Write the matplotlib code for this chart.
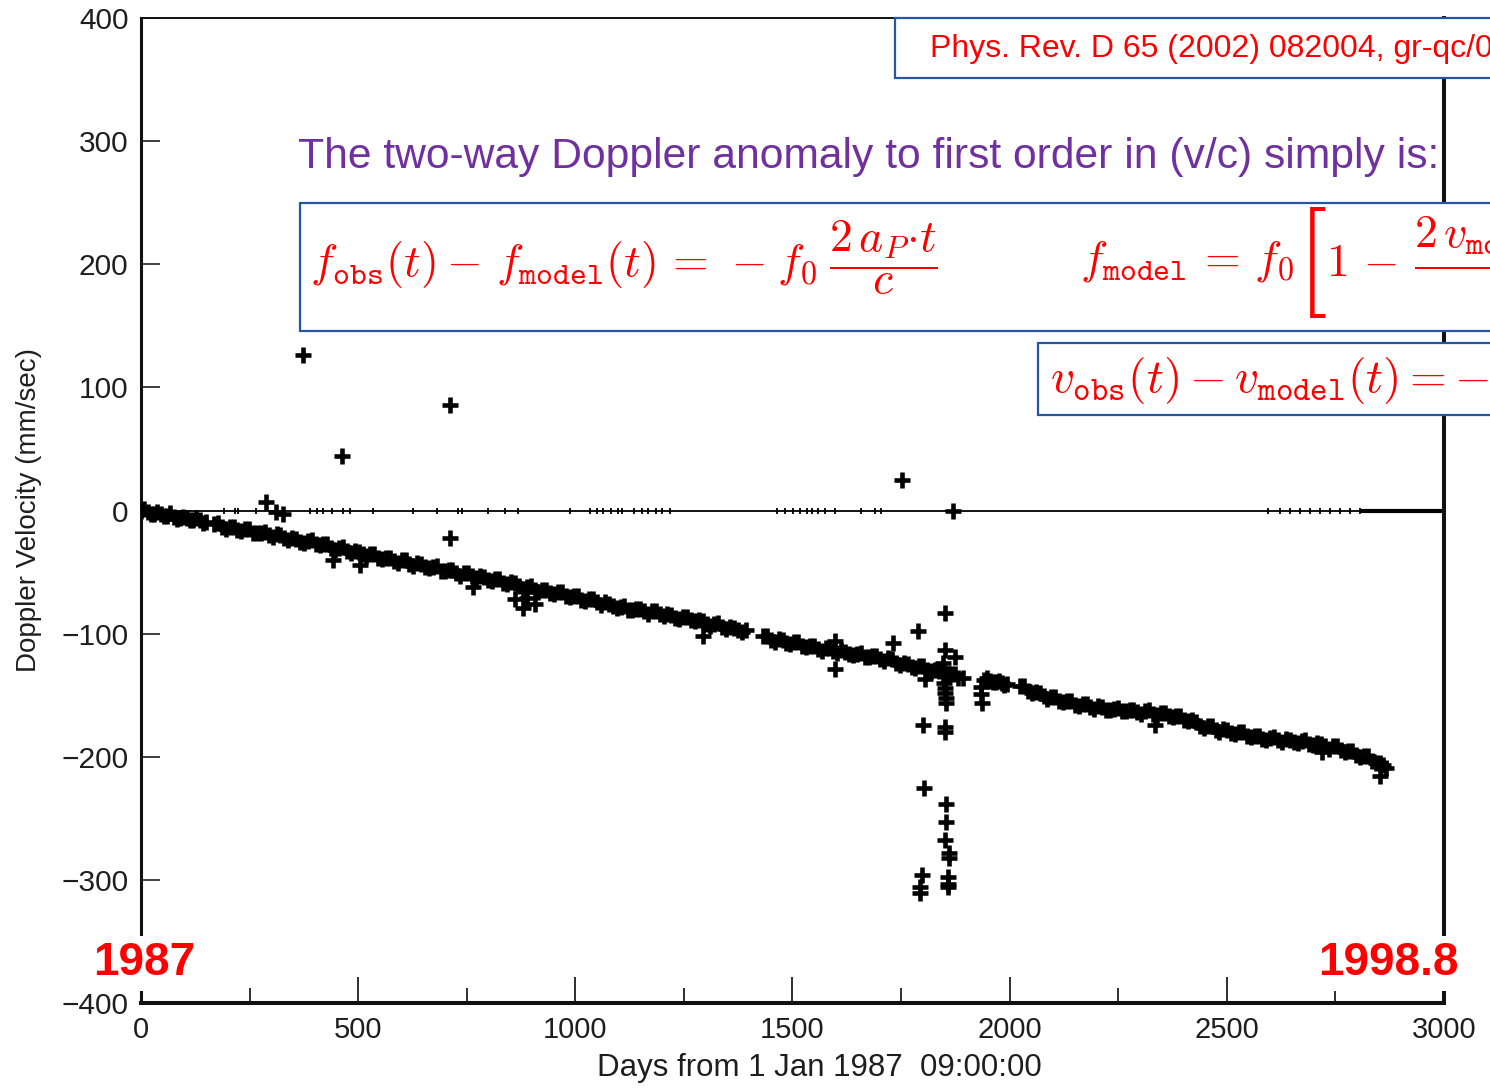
import matplotlib
matplotlib.use("Agg")
import matplotlib.pyplot as plt
from matplotlib.patches import Rectangle
from matplotlib.ticker import MultipleLocator

plt.rcParams['font.family'] = ['Liberation Sans', 'DejaVu Sans']
plt.rcParams['mathtext.fontset'] = 'cm'

# ---------------- data ----------------
# main tracking band, first set of passes
band_days_1 = [0, 15, 30, 45, 60, 75, 90, 105, 120, 135, 150]
band_vals_1 = [-0.8, -1.4, -2.6, -3.2, -4.3, -4.9, -6.0, -6.4, -7.5, -8.1, -9.2]

band_days_2 = [168, 186, 204, 222, 240, 258, 276, 294, 312, 330, 348, 366, 384, 402, 420,
               438, 456, 474, 492, 510, 528, 546, 564, 582, 600, 618, 636, 654, 672, 690,
               708, 726, 744, 762, 780, 798, 816, 834, 852, 870, 888, 906, 924, 942, 960,
               978, 996, 1014, 1032, 1050, 1068, 1086, 1104, 1122, 1140, 1158, 1176, 1194,
               1212, 1230, 1248, 1266, 1284, 1302, 1320, 1338, 1356, 1374, 1392]
band_vals_2 = [-10.7, -13.4, -13.4, -15.5, -15.2, -18.2, -17.9, -20.0, -19.4, -22.4, -22.6,
               -25.3, -24.7, -27.2, -27.0, -30.1, -30.2, -33.2, -32.8, -35.2, -35.1, -38.5,
               -38.5, -41.2, -40.6, -43.1, -42.9, -46.1, -46.2, -48.8, -48.2, -50.8, -50.5,
               -53.5, -53.6, -56.5, -55.9, -58.7, -58.4, -61.7, -62.1, -64.7, -64.2, -66.6,
               -66.4, -69.6, -69.5, -72.3, -72.0, -74.5, -74.4, -77.9, -78.1, -80.6, -79.6,
               -81.9, -81.3, -84.4, -84.3, -87.2, -86.6, -88.9, -88.7, -91.9, -92.2, -94.9,
               -94.4, -97.2, -97.3]

band_days_3 = [1432, 1450, 1468, 1486, 1504, 1522, 1540, 1558, 1576, 1594, 1612, 1630, 1648,
               1666, 1684, 1702, 1720, 1738, 1756, 1774, 1792, 1810, 1828, 1846, 1864, 1882]
band_vals_3 = [-102.1, -104.9, -104.5, -107.3, -107.0, -110.1, -110.0, -112.6, -111.7, -114.2,
               -113.7, -116.8, -116.4, -118.8, -117.9, -120.3, -120.0, -123.6, -123.8, -126.9,
               -126.6, -129.7, -129.6, -133.2, -133.0, -135.9]

band_days_4 = [1940, 1954, 1968, 1982, 1994]
band_vals_4 = [-137.5, -138.2, -139.6, -140.1, -141.3]

band_days_5 = [2024, 2042, 2060, 2078, 2096, 2114, 2132, 2150, 2168, 2186, 2204, 2222, 2240,
               2258, 2276, 2294, 2312, 2330, 2348, 2366, 2384, 2402, 2420, 2438, 2456, 2474,
               2492, 2510, 2528, 2546, 2564, 2582, 2600, 2618, 2636, 2654, 2672, 2690, 2708,
               2726, 2744, 2762, 2780, 2798, 2816, 2834, 2852, 2866]
band_vals_5 = [-142.4, -146.3, -147.1, -151.0, -151.5, -154.9, -154.9, -157.6, -157.0, -159.6,
               -158.9, -161.7, -161.0, -163.0, -161.7, -163.7, -162.5, -165.1, -164.4, -166.8,
               -166.6, -170.0, -170.5, -174.9, -175.1, -178.1, -177.7, -180.6, -180.2, -183.4,
               -183.0, -185.5, -184.5, -186.7, -185.5, -188.1, -187.4, -189.8, -189.1, -191.5,
               -191.0, -194.4, -195.1, -198.6, -199.2, -203.6, -204.9, -209.5]

# main tracking band, second set of passes (interleaved)
band2_days_1 = [7, 22, 37, 52, 67, 82, 97, 112, 127, 142]
band2_vals_1 = [1.0, -2.9, -1.4, -4.3, -2.2, -6.5, -5.0, -8.0, -6.2, -10.0]

band2_days_2 = [177, 195, 213, 231, 249, 267, 285, 303, 321, 339, 357, 375, 393, 411, 429,
                447, 465, 483, 501, 519, 537, 555, 573, 591, 609, 627, 645, 663, 681, 699,
                717, 735, 753, 771, 789, 807, 825, 843, 861, 879, 897, 915, 933, 951, 969,
                987, 1005, 1023, 1041, 1059, 1077, 1095, 1113, 1131, 1149, 1167, 1185, 1203,
                1221, 1239, 1257, 1275, 1293, 1311, 1329, 1347, 1365, 1383]
band2_vals_2 = [-10.5, -15.0, -13.7, -16.8, -14.9, -18.4, -17.8, -21.9, -19.6, -24.0, -22.8,
                -26.1, -24.3, -28.0, -27.5, -31.8, -29.8, -34.5, -33.4, -36.8, -35.2, -39.0,
                -38.5, -42.8, -40.6, -45.1, -43.8, -47.1, -45.3, -49.0, -48.5, -52.8, -50.6,
                -55.1, -53.9, -57.3, -55.7, -59.5, -59.2, -63.6, -61.6, -66.1, -64.8, -68.1,
                -66.3, -70.0, -69.5, -73.9, -72.0, -76.6, -75.6, -79.0, -77.3, -80.7, -79.8,
                -83.7, -81.4, -85.9, -84.6, -87.9, -86.1, -89.8, -89.4, -93.7, -91.7, -96.3,
                -95.2, -98.6]

band2_days_3 = [1441, 1459, 1477, 1495, 1513, 1531, 1549, 1567, 1585, 1603, 1621, 1639, 1657,
                1675, 1693, 1711, 1729, 1747, 1765, 1783, 1801, 1819, 1837, 1855, 1873]
band2_vals_3 = [-101.8, -106.4, -105.2, -108.6, -106.9, -110.5, -109.9, -114.0, -111.7, -116.0,
                -114.6, -117.6, -115.5, -118.9, -118.1, -122.3, -120.4, -125.2, -124.3, -127.9,
                -126.4, -130.4, -130.3, -134.8, -132.9]

band2_days_4 = [1947, 1961, 1975, 1988]
band2_vals_4 = [-136.4, -139.5, -138.6, -141.9]

band2_days_5 = [2033, 2051, 2069, 2087, 2105, 2123, 2141, 2159, 2177, 2195, 2213, 2231, 2249,
                2267, 2285, 2303, 2321, 2339, 2357, 2375, 2393, 2411, 2429, 2447, 2465, 2483,
                2501, 2519, 2537, 2555, 2573, 2591, 2609, 2627, 2645, 2663, 2681, 2699, 2717,
                2735, 2753, 2771, 2789, 2807, 2825, 2843, 2859]
band2_vals_5 = [-142.8, -148.5, -148.5, -152.7, -151.5, -155.3, -154.8, -159.1, -156.9, -161.2,
                -159.6, -162.4, -160.0, -162.9, -161.7, -165.2, -162.3, -166.2, -164.7, -168.0,
                -166.7, -171.1, -171.7, -176.7, -174.8, -179.5, -178.5, -181.9, -180.1, -183.6,
                -182.9, -186.8, -184.2, -188.0, -186.0, -188.7, -186.7, -190.1, -189.4, -193.4,
                -191.3, -196.2, -195.7, -200.0, -199.7, -205.1, -206.4]

outlier_days = [288, 310, 327, 373, 442, 463, 504, 712, 712, 764, 861, 880, 889, 907, 1294,
                1598, 1598, 1732, 1752, 1789, 1851, 1851, 1874, 1870, 1805, 1893, 1847, 1847,
                1849, 1849, 1851, 1851, 1853, 1853, 1800, 1851, 1851, 1803, 1853, 1853, 1851,
                1860, 1860, 1798, 1794, 1794, 1858, 1858, 1858, 1934, 1934, 1936, 2335, 2719,
                2853]
outlier_vals = [6.5, -1, -3, 126, -40, 44, -44, 86, -22, -62, -72, -79, -71, -76, -102,
                -106, -129, -108, 25, -98, -83, -113, -119, 0, -137, -136, -124, -128,
                -132, -140, -144, -148, -152, -156, -174, -176, -180, -225, -238, -253, -268,
                -278, -282, -296, -306, -311, -298, -303, -306, -143, -149, -156, -174, -196,
                -216]

residual_days = [191, 216, 223, 265, 389, 405, 419, 440, 465, 481, 534, 626, 682, 730, 739,
                 799, 838, 868, 988, 1034, 1050, 1064, 1082, 1098, 1108, 1135, 1154, 1167,
                 1186, 1200, 1218, 1464, 1483, 1501, 1517, 1533, 1545, 1559, 1575, 1598, 1658,
                 1690, 1704, 2595, 2622, 2645, 2668, 2692, 2715, 2737, 2760, 2784, 2807]
residual_dense_span = [2807, 3000]

x_ticks = [0, 500, 1000, 1500, 2000, 2500, 3000]
y_ticks = [-400, -300, -200, -100, 0, 100, 200, 300, 400]

W, H = 1490, 1090
fig = plt.figure(figsize=(W / 100, H / 100), dpi=100)
ax = fig.add_axes([141 / W, 1 - 1003 / H, 1303 / W, 985 / H])

ax.set_xlim(0, 3000)
ax.set_ylim(-400, 400)

# zero reference line with residual points
ax.axhline(0, color='black', lw=1.3, zorder=2)
ax.hlines(0, residual_dense_span[0], residual_dense_span[1], color='black', lw=3.0, zorder=2)
ax.plot(residual_days, [0] * len(residual_days), linestyle='none', marker='|',
        ms=5, mew=1.3, color='black', zorder=3)

mk = dict(linestyle='none', marker='+', ms=11.5, mew=3.3, color='black', zorder=3)
for d, v in [(band_days_1, band_vals_1), (band_days_2, band_vals_2),
             (band_days_3, band_vals_3), (band_days_4, band_vals_4),
             (band_days_5, band_vals_5),
             (band2_days_1, band2_vals_1), (band2_days_2, band2_vals_2),
             (band2_days_3, band2_vals_3), (band2_days_4, band2_vals_4),
             (band2_days_5, band2_vals_5)]:
    ax.plot(d, v, **mk)
ax.plot(outlier_days, outlier_vals, **mk)

# axes styling
ax.set_xticks(x_ticks)
ax.set_yticks(y_ticks)
ax.xaxis.set_minor_locator(MultipleLocator(250))
tick_color = '#1e1e1e'
ax.tick_params(axis='y', which='major', direction='in', length=14, width=1.2,
               labelsize=21.5, pad=9, colors=tick_color, right=False)
ax.tick_params(axis='x', which='major', direction='in', length=19, width=1.3,
               labelsize=21, pad=9, colors=tick_color, top=False)
ax.tick_params(axis='x', which='minor', direction='in', length=11, width=1.3,
               colors=tick_color, top=False)
ax.spines['left'].set_linewidth(2.2)
ax.spines['bottom'].set_linewidth(2.9)
ax.spines['right'].set_linewidth(2.9)
ax.spines['top'].set_linewidth(1.4)
for s in ax.spines.values():
    s.set_color('#111111')

ax.set_xlabel('Days from 1 Jan 1987  09:00:00', fontsize=22.5, color=tick_color)
ax.xaxis.set_label_coords((819 - 141) / 1303, (1003 - 1053) / 985)
ax.set_ylabel('Doppler Velocity (mm/sec)', fontsize=20, color=tick_color)
ax.yaxis.set_label_coords((42 - 141) / 1303, 0.5)

# ---------------- overlay annotations (pixel coordinates) ----------------
ov = fig.add_axes([0, 0, 1, 1])
ov.set_xlim(0, W)
ov.set_ylim(H, 0)
ov.axis('off')
ov.patch.set_alpha(0)
ov.set_zorder(5)

blue = '#2456a4'
red = '#ff0000'

ov.add_patch(Rectangle((895, 18), 700, 60, facecolor='white', edgecolor=blue, lw=1.6))
ov.text(930, 49, 'Phys. Rev. D 65 (2002) 082004, gr-qc/0', color=red,
        fontsize=23, ha='left', va='center')

ov.text(298, 157, 'The two-way Doppler anomaly to first order in (v/c) simply is:',
        color='#7030a0', fontsize=30.7, ha='left', va='center')

ov.add_patch(Rectangle((300, 203), 1300, 128, facecolor='white', edgecolor=blue, lw=1.6))
ov.text(310, 257,
        r'$f_{\mathtt{obs}}(t) -\, f_{\mathtt{model}}(t) \,=\hspace{0.18}-\hspace{0.06}f_0'
        r'\hspace{0.25}\dfrac{2\,a_P{\cdot}t}{c}$',
        color=red, fontsize=33, ha='left', va='center')

# f_model = f0 [ 1 - 2 v_model(t)/c ]  (tall bracket drawn as its own glyph)
ov.text(1080, 262, r'$f_{\mathtt{model}} \,=\, f_0$',
        color=red, fontsize=33, ha='left', va='center')
ov.text(1296, 262, r'$[$', color=red, fontsize=80, ha='left', va='center')
t_inner = ov.text(1326, 254, r'$1 \,-\, \dfrac{2\,v_{\mathtt{model}}(t)}{c}$',
                  color=red, fontsize=33, ha='left', va='center')
ov.annotate(r'$]$', xy=(1, 0.5), xycoords=t_inner, xytext=(2, 0),
            textcoords='offset points', color=red, fontsize=80, ha='left', va='center')

ov.add_patch(Rectangle((1038, 343), 600, 72, facecolor='white', edgecolor=blue, lw=1.6))
ov.text(1050, 380, r'$v_{\mathtt{obs}}(t) - v_{\mathtt{model}}(t) = -\,a_P\,t$',
        color=red, fontsize=34, ha='left', va='center')

ov.text(144, 963, '1987', color=red, fontsize=33, fontweight='bold', ha='center', va='center',
        bbox=dict(facecolor='white', edgecolor='none', pad=4))
ov.text(1388, 963, '1998.8', color=red, fontsize=33, fontweight='bold', ha='center', va='center',
        bbox=dict(facecolor='white', edgecolor='none', pad=4))

fig.savefig('out.png', dpi=100)
